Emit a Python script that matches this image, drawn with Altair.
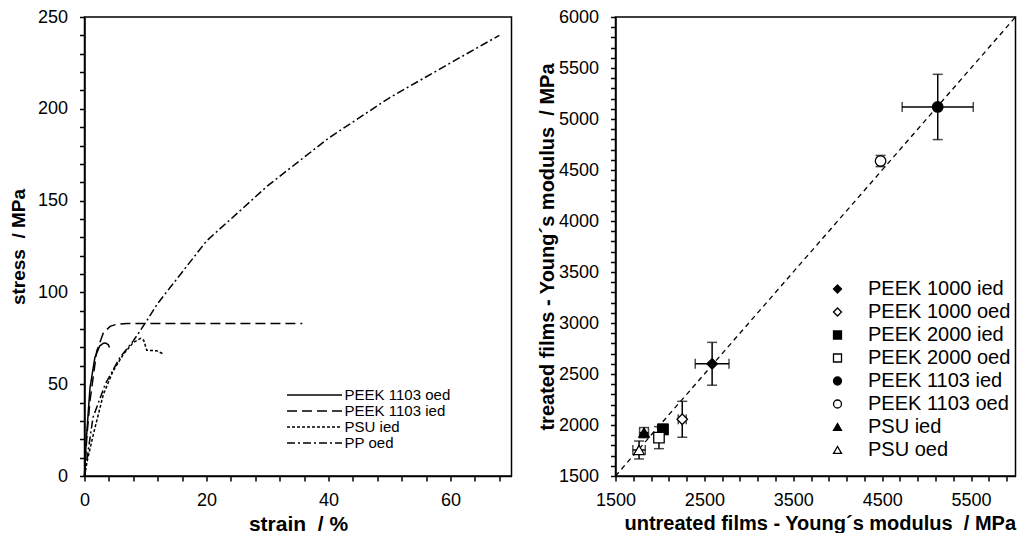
import altair as alt
import pandas as pd

# ---------------- left panel: stress-strain curves ----------------
curve_names = ["PEEK 1103 oed", "PEEK 1103 ied", "PSU ied", "PP oed"]
curve_dashes = [[1, 0], [10, 5], [3, 2], [8, 3, 2, 3]]

peek1103_oed_strain = [0, 0.3, 0.9, 1.7, 2.5, 3.1, 3.5, 3.9, 4.1]
peek1103_oed_stress = [0, 20, 48, 64.5, 70.9, 72.3, 72.4, 71.5, 70]
peek1103_ied_strain = [0, 0.4, 0.9, 2.0, 3.1, 4.2, 5.3, 7, 15, 25, 35.7]
peek1103_ied_stress = [0, 22, 41, 68, 78, 81.5, 82.7, 83, 83, 83, 83]
psu_ied_strain = [0, 0.5, 1.45, 3.1, 4.7, 6.4, 8, 9.2, 9.7, 10.2, 11.8, 12.8]
psu_ied_stress = [0, 9, 22.7, 44.5, 57.3, 66.4, 72.7, 75, 74, 68.5, 68.2, 66.7]
pp_oed_strain = [0, 1.4, 3.4, 5.8, 8, 10.2, 12, 20, 30, 40, 50, 60, 68]
pp_oed_stress = [0, 32, 50, 64.5, 73.6, 84.5, 94, 128, 158, 184, 206, 225, 240]

# axis ticks, left panel (all tick positions; majors get labels)
strain_ticks = list(range(0, 71, 4))
stress_ticks = list(range(0, 251, 10))

# ---------------- right panel: Young's modulus ----------------
series = ["PEEK 1000 ied", "PEEK 1000 oed", "PEEK 2000 ied", "PEEK 2000 oed",
          "PEEK 1103 ied", "PEEK 1103 oed", "PSU ied", "PSU oed"]
series_shapes = ["diamond", "diamond", "square", "square",
                 "circle", "circle", "triangle-up", "triangle-up"]
series_fills = ["black", "white", "black", "white",
                "black", "white", "black", "white"]
untreated = [2587, 2251, 2034, 1989, 5125, 4482, 1821, 1765]
treated = [2600, 2056, 1958, 1876, 5118, 4588, 1925, 1755]
untreated_err = [190, 45, 40, 30, 400, 25, 50, 70]
treated_err = [210, 176, 50, 108, 320, 55, 50, 88]

diag_x = [1500, 6000]
diag_y = [1500, 6000]

mod_x_ticks = list(range(1500, 6001, 200))
mod_y_ticks = list(range(1500, 6001, 100))

# ---------------- tables ----------------
rows = []
for name, xs, ys in zip(curve_names,
                        [peek1103_oed_strain, peek1103_ied_strain, psu_ied_strain, pp_oed_strain],
                        [peek1103_oed_stress, peek1103_ied_stress, psu_ied_stress, pp_oed_stress]):
    for i, (a, b) in enumerate(zip(xs, ys)):
        rows.append({"series": name, "strain": a, "stress": b, "order": i})
curves = pd.DataFrame(rows)

mod = pd.DataFrame({
    "series": series,
    "untreated": untreated,
    "treated": treated,
    "x_lo": [u - e for u, e in zip(untreated, untreated_err)],
    "x_hi": [u + e for u, e in zip(untreated, untreated_err)],
    "y_lo": [t - e for t, e in zip(treated, treated_err)],
    "y_hi": [t + e for t, e in zip(treated, treated_err)],
})
diag = pd.DataFrame({"x": diag_x, "y": diag_y})

FONT = "Liberation Sans"
NB = "\u00a0"


def axis(title, values, major_test, lab_pad, title_pad, title_size, **kw):
    return alt.Axis(
        title=title, values=values, tickCount=len(values) + 1, format="d",
        labelExpr=f"({major_test}) ? datum.label : ''",
        tickSize=5, labelPadding=lab_pad, titlePadding=title_pad, titleFontSize=title_size,
        labelFlush=False, labelOverlap=False, grid=False, domain=True, **kw)


# ---------------- left chart ----------------
sx = alt.Scale(domain=[0, 70], nice=False, zero=False)
sy = alt.Scale(domain=[0, 250], nice=False, zero=False)

left = alt.Chart(curves).mark_line(strokeWidth=1.5, color="black").encode(
    x=alt.X("strain:Q", scale=sx,
            axis=axis("strain" + NB + " / %", strain_ticks, "datum.value % 20 === 0", 10, 4, 21)),
    y=alt.Y("stress:Q", scale=sy,
            axis=axis("stress" + NB + " / MPa", stress_ticks, "datum.value % 50 === 0", 12, 9, 19)),
    strokeDash=alt.StrokeDash(
        "series:N",
        scale=alt.Scale(domain=curve_names, range=curve_dashes),
        legend=alt.Legend(title=None, orient="none", legendX=222, legendY=370,
                          symbolType="M-4,0H4", symbolSize=189, symbolStrokeWidth=1.5,
                          symbolStrokeColor="black", labelFontSize=15, labelFont=FONT,
                          labelColor="black", labelOffset=22.1, rowPadding=-2.2),
    ),
    order="order:Q",
    detail="series:N",
).properties(width=427, height=459)

# ---------------- right chart ----------------
mx = alt.Scale(domain=[1500, 6000], nice=False, zero=False)
my = alt.Scale(domain=[1500, 6000], nice=False, zero=False)

x_axis_r = axis("untreated films - Young´s modulus" + NB + " / MPa", mod_x_ticks,
                "(datum.value - 1500) % 1000 === 0", 10, 4, 20, titleAnchor="end")
y_axis_r = axis("treated films - Young´s modulus" + NB + " / MPa", mod_y_ticks,
                "datum.value % 500 === 0", 12, 1, 20)

diag_line = alt.Chart(diag).mark_line(color="black", strokeWidth=1.3, strokeDash=[5, 4]).encode(
    x=alt.X("x:Q", scale=mx, axis=x_axis_r),
    y=alt.Y("y:Q", scale=my, axis=y_axis_r),
)
err_v = alt.Chart(mod).mark_errorbar(ticks={"size": 10}, thickness=1.5, color="black",
                                     orient="vertical").encode(
    x=alt.X("untreated:Q", scale=mx, axis=x_axis_r),
    y=alt.Y("y_lo:Q", scale=my, axis=y_axis_r),
    y2="y_hi:Q",
)
err_h = alt.Chart(mod).mark_errorbar(ticks={"size": 10}, thickness=1.5, color="black",
                                     orient="horizontal").encode(
    y=alt.Y("treated:Q", scale=my, axis=y_axis_r),
    x=alt.X("x_lo:Q", scale=mx, axis=x_axis_r),
    x2="x_hi:Q",
)
leg_r = alt.Legend(title=None, orient="none", legendX=212, legendY=262,
                   symbolSize=64, symbolStrokeWidth=1.3,
                   labelFontSize=20, labelFont=FONT, labelColor="black", labelOffset=20.5,
                   rowPadding=3.0)
pts = alt.Chart(mod).mark_point(filled=False, color="black", strokeWidth=1.3, opacity=1,
                                size=110).encode(
    x=alt.X("untreated:Q", scale=mx, axis=x_axis_r),
    y=alt.Y("treated:Q", scale=my, axis=y_axis_r),
    shape=alt.Shape("series:N", scale=alt.Scale(domain=series, range=series_shapes),
                    legend=leg_r),
    fill=alt.Fill("series:N", scale=alt.Scale(domain=series, range=series_fills),
                  legend=leg_r),
    stroke=alt.Stroke("series:N", scale=alt.Scale(domain=series, range=["black"] * 8),
                      legend=leg_r),
)
right = alt.layer(diag_line, err_v, err_h, pts).properties(width=400, height=459)

chart = alt.hconcat(left, right, spacing=24).resolve_scale(
    strokeDash="independent", shape="independent", fill="independent", stroke="independent"
).resolve_legend(
    strokeDash="independent", shape="independent", fill="independent", stroke="independent"
).properties(
    padding={"left": 0.5, "top": -1, "right": 0, "bottom": 0}
).configure(font=FONT).configure_axis(
    labelFont=FONT, titleFont=FONT, labelFontSize=18, titleFontWeight="bold",
    labelColor="black", titleColor="black", domainColor="black", tickColor="black",
    domainWidth=1.5, tickWidth=1.5,
).configure_view(stroke="black", strokeWidth=1.5)

chart.save("out.html", embed_options={"renderer": "svg", "actions": False})
